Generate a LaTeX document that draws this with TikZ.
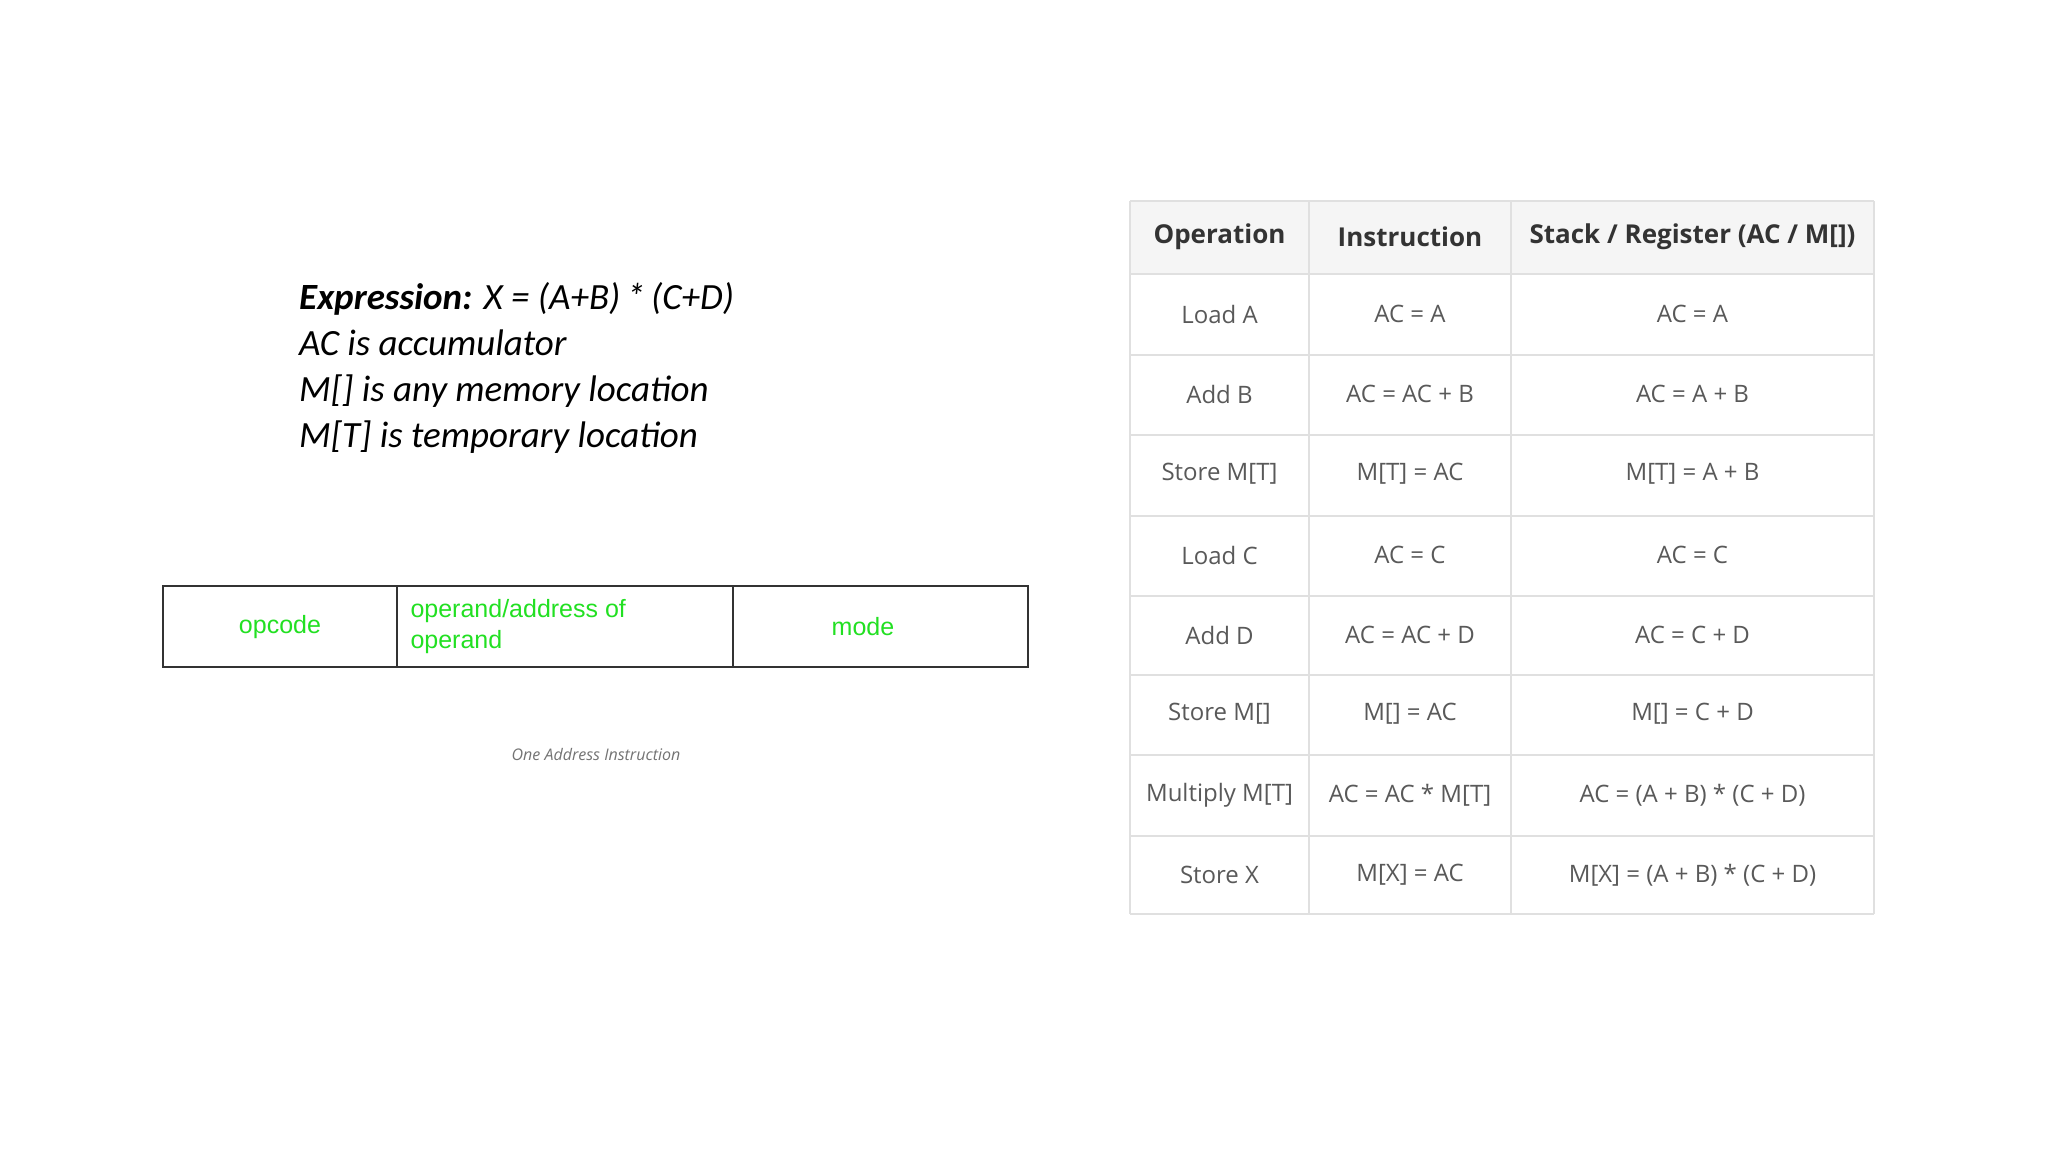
\documentclass[tikz,border=0pt]{standalone}
\usepackage{fontspec}
\setmainfont{Carlito}
\newfontfamily\tabfont{Open Sans}
\newfontfamily\grfont{Liberation Sans}
\begin{document}
\begin{tikzpicture}[x=1pt,y=-1pt,
  grid/.style={draw=black!12,line width=1.5pt},
  cellt/.style={font=\tabfont\fontsize{24}{28}\selectfont,text=black!65,anchor=center},
  headt/.style={font=\tabfont\bfseries\fontsize{26}{30}\selectfont,text=black!80,anchor=center},
  grt/.style={font=\grfont\fontsize{25}{31}\selectfont,text=green!85!black!70!green,anchor=center},
  fld/.style={draw=black!80,line width=1.5pt}]
\useasboundingbox (0,0) rectangle (2048,1152);
\fill[white] (0,0) rectangle (2048,1152);
% expression
\node[anchor=north west,align=left,font=\itshape\fontsize{37}{46}\selectfont,inner sep=0] (expr) at (299,282)
 {\textbf{Expression:} X = (A+B)\,*\,(C+D)\\AC is accumulator\\M[] is any memory location\\M[T] is temporary location};
% instruction format
\definecolor{grn}{HTML}{22E022}
\draw[fld] (163,586) rectangle (1028,667);
\draw[fld] (397,586) -- (397,667);
\draw[fld] (733,586) -- (733,667);
\node[grt,text=grn] (op) at (280,627) {opcode};
\node[grt,text=grn,anchor=west,align=left,font=\grfont\fontsize{25}{31}\selectfont] (oa) at (407,627) {operand/address of\\operand};
\node[grt,text=grn] (md) at (863,627) {mode};
\node[font=\tabfont\itshape\fontsize{16}{20}\selectfont,text=black!55] (cap) at (596,754) {One Address Instruction};
% table
\fill[black!4] (1130,201) rectangle (1874,274);
\foreach \y in {201,274,355,435,516,596,675,755,836,914} \draw[grid] (1130,\y) -- (1874,\y);
\foreach \x in {1130,1309,1511,1874} \draw[grid] (\x,201) -- (\x,914);
\node[headt] (h1) at (1219.5,237) {Operation};
\node[headt] (h2) at (1410,237) {Instruction};
\node[headt] (h3) at (1692.5,237) {Stack / Register (AC / M[])};
\foreach \a/\b/\c/\y in {
 Load A/AC = A/AC = A/314,
 Add B/AC = AC + B/AC = A + B/394,
 Store M[T]/M[T] = AC/M[T] = A + B/474,
 Load C/AC = C/AC = C/555,
 Add D/AC = AC + D/AC = C + D/635,
 Store M[]/M[] = AC/M[] = C + D/714,
 Multiply M[T]/AC = AC * M[T]/AC = (A + B) * (C + D)/795,
 Store X/M[X] = AC/M[X] = (A + B) * (C + D)/875}{
 \node[cellt] at (1219.5,\y) {\a};
 \node[cellt] at (1410,\y) {\b};
 \node[cellt] at (1692.5,\y) {\c};
}
\end{tikzpicture}
\end{document}
